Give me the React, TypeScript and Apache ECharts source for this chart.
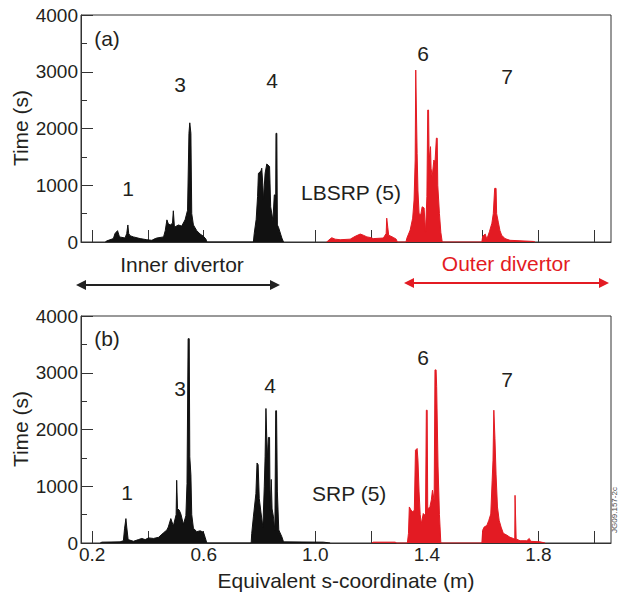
import React, { useEffect, useRef } from "react";
import * as echarts from "echarts";

const FONT = "'Liberation Sans', Arial, Helvetica, sans-serif";
const RED = "#e31b23";
const BLACK = "#111111";
const TEXT = "#231f20";

// x axis ticks / labels (m)
const xTickValues = [0.2, 0.4, 0.6, 0.8, 1.0, 1.2, 1.4, 1.6, 1.8, 2.0];
const xLabelValues = [0.2, 0.6, 1.0, 1.4, 1.8];

// Panel (a): inner divertor (black), [s (m), time (s)]
const innerA: [number, number][] = [
  [0.247, 0], [0.253, 20], [0.276, 60], [0.282, 150], [0.291, 200], [0.298, 90],
  [0.318, 70], [0.324, 150], [0.328, 300], [0.331, 150], [0.336, 110], [0.348, 90],
  [0.372, 60], [0.396, 40], [0.414, 30], [0.426, 60], [0.432, 70], [0.456, 90],
  [0.462, 200], [0.468, 390], [0.473, 320], [0.48, 300], [0.488, 330], [0.491, 550],
  [0.495, 260], [0.509, 300], [0.521, 280], [0.533, 390], [0.542, 560], [0.547, 1915],
  [0.55, 2100], [0.554, 1915], [0.557, 500], [0.563, 300], [0.575, 200], [0.587, 140],
  [0.599, 100], [0.608, 50], [0.611, 0],
  [0.778, 0], [0.781, 150], [0.788, 400], [0.793, 800], [0.796, 1210], [0.805, 1250],
  [0.808, 1300], [0.812, 1000], [0.814, 740], [0.82, 1210], [0.826, 1375], [0.836, 1330],
  [0.84, 620], [0.848, 380], [0.853, 830], [0.858, 830], [0.859, 1915], [0.862, 1915],
  [0.864, 300], [0.868, 260], [0.88, 70], [0.886, 0],
];

// Panel (a): outer divertor (red)
const outerA: [number, number][] = [
  [1.041, 0], [1.047, 30], [1.059, 75], [1.071, 50], [1.089, 40], [1.125, 50],
  [1.143, 100], [1.161, 140], [1.172, 120], [1.185, 90], [1.196, 80], [1.208, 60],
  [1.244, 70], [1.254, 150], [1.256, 420], [1.26, 250], [1.263, 120], [1.28, 80],
  [1.29, 50], [1.294, 0],
  [1.325, 0], [1.328, 65], [1.34, 210], [1.349, 420], [1.354, 740], [1.358, 1445],
  [1.36, 3030], [1.362, 3030], [1.365, 1560], [1.368, 900], [1.372, 500], [1.378, 480],
  [1.383, 620], [1.39, 600], [1.395, 170], [1.4, 800], [1.403, 2325], [1.406, 2325],
  [1.408, 1445], [1.413, 1680], [1.415, 1300], [1.419, 1150], [1.425, 1445], [1.429, 1400],
  [1.434, 1830], [1.437, 1830], [1.439, 1000], [1.445, 500], [1.45, 170], [1.455, 0],
  [1.597, 0], [1.6, 100], [1.609, 140], [1.615, 50], [1.624, 180], [1.633, 330],
  [1.638, 500], [1.643, 945], [1.648, 945], [1.65, 500], [1.656, 350], [1.662, 200],
  [1.668, 120], [1.68, 60], [1.698, 30], [1.782, 10], [1.788, 0],
];

// Panel (b): inner divertor (black)
const innerB: [number, number][] = [
  [0.229, 0], [0.235, 15], [0.3, 20], [0.312, 40], [0.316, 250], [0.321, 430],
  [0.324, 280], [0.329, 60], [0.348, 30], [0.366, 60], [0.378, 80], [0.39, 60],
  [0.402, 90], [0.42, 80], [0.438, 100], [0.456, 180], [0.468, 230], [0.473, 282],
  [0.482, 430], [0.491, 300], [0.501, 500], [0.503, 1105], [0.506, 605], [0.512, 580],
  [0.518, 510], [0.527, 330], [0.536, 480], [0.54, 1050], [0.544, 3600], [0.548, 3600],
  [0.55, 1520], [0.554, 1200], [0.557, 500], [0.563, 260], [0.575, 200], [0.587, 215],
  [0.599, 190], [0.605, 100], [0.611, 0],
  [0.77, 0], [0.772, 165], [0.778, 460], [0.787, 870], [0.791, 1410], [0.795, 1380],
  [0.799, 785], [0.805, 545], [0.812, 280], [0.817, 990], [0.82, 1520], [0.823, 2370],
  [0.825, 2370], [0.828, 1500], [0.832, 1860], [0.836, 1860], [0.838, 575], [0.842, 1120],
  [0.845, 600], [0.85, 460], [0.855, 225], [0.858, 2330], [0.861, 2330], [0.864, 900],
  [0.869, 230], [0.88, 110], [0.886, 20], [1.029, 15], [1.053, 0],
];

// Panel (b): outer divertor (red)
const outerB: [number, number][] = [
  [1.202, 0], [1.208, 15], [1.286, 15], [1.292, 0],
  [1.33, 0], [1.334, 170], [1.337, 635], [1.343, 580], [1.349, 550], [1.355, 580],
  [1.359, 1635], [1.365, 1665], [1.368, 1460], [1.372, 900], [1.376, 500], [1.38, 340],
  [1.387, 520], [1.395, 480], [1.398, 2340], [1.401, 2340], [1.403, 600], [1.411, 640],
  [1.416, 760], [1.42, 930], [1.426, 750], [1.429, 3050], [1.433, 3050], [1.435, 2755],
  [1.437, 2755], [1.44, 1340], [1.445, 500], [1.45, 0],
  [1.597, 0], [1.6, 225], [1.605, 280], [1.615, 310], [1.622, 400], [1.629, 510],
  [1.634, 1105], [1.637, 1460], [1.64, 2340], [1.642, 2340], [1.644, 1840], [1.648, 1200],
  [1.653, 635], [1.659, 400], [1.666, 280], [1.674, 170], [1.686, 140], [1.698, 100],
  [1.71, 80], [1.715, 70], [1.716, 840], [1.718, 840], [1.72, 70], [1.734, 40],
  [1.758, 40], [1.767, 80], [1.772, 30], [1.806, 20], [1.824, 0],
];

const GRID_LEFT = 81;
const GRID_W = 530;
const GRID_H = 227;
const GRID_TOPS = [15, 316];

function txt(text: string, x: number, y: number, opts: any = {}) {
  return {
    type: "text",
    x,
    y,
    rotation: opts.rotation || 0,
    z: 10,
    style: {
      text,
      fontSize: opts.fontSize || 21,
      fontFamily: FONT,
      fill: opts.fill || TEXT,
      align: opts.align || "center",
      verticalAlign: "middle",
    },
  };
}

function arrow(x1: number, x2: number, y: number, color: string) {
  const h = 10;
  const w = 5;
  return [
    { type: "line", z: 10, shape: { x1: x1 + 4, y1: y, x2: x2 - 4, y2: y }, style: { stroke: color, lineWidth: 2 } },
    { type: "polygon", z: 10, shape: { points: [[x1, y], [x1 + h, y - w], [x1 + h, y + w]] }, style: { fill: color } },
    { type: "polygon", z: 10, shape: { points: [[x2, y], [x2 - h, y - w], [x2 - h, y + w]] }, style: { fill: color } },
  ];
}

export default function App() {
  const ref = useRef<HTMLDivElement>(null);
  useEffect(() => {
    if (!ref.current) return;
    const chart = echarts.init(ref.current, null, { renderer: "svg" });
    const axisColor = "#333";
    const grids = GRID_TOPS.map((top) => ({
      left: GRID_LEFT,
      top,
      width: GRID_W,
      height: GRID_H,
      show: true,
      borderColor: axisColor,
      borderWidth: 1,
      backgroundColor: "transparent",
    }));
    const xAxes = [0, 1].map((i) => ({
      gridIndex: i,
      type: "value",
      min: 0.16,
      max: 2.06,
      axisLine: { show: true, lineStyle: { color: axisColor, width: 1 } },
      axisTick: {
        show: true,
        inside: true,
        length: 12,
        customValues: xTickValues,
        lineStyle: { color: axisColor, width: 1 },
      },
      axisLabel: {
        show: i === 1,
        customValues: xLabelValues,
        formatter: (v: number) => v.toFixed(1),
        fontSize: 19,
        fontFamily: FONT,
        color: TEXT,
        margin: 2,
      },
      splitLine: { show: false },
    }));
    const yAxes = [0, 1].map((i) => ({
      gridIndex: i,
      type: "value",
      min: 0,
      max: 4000,
      interval: 1000,
      axisLine: { show: true, lineStyle: { color: axisColor, width: 1 } },
      axisTick: { show: true, inside: true, length: 12, lineStyle: { color: axisColor, width: 1 } },
      minorTick: { show: true, splitNumber: 2, length: 6, lineStyle: { color: axisColor, width: 1 } },
      axisLabel: {
        fontSize: 19,
        fontFamily: FONT,
        color: TEXT,
        margin: 3,
        formatter: (v: number) => String(v),
      },
      splitLine: { show: false },
    }));
    const mk = (data: [number, number][], color: string, idx: number) => ({
      type: "line",
      xAxisIndex: idx,
      yAxisIndex: idx,
      data,
      showSymbol: false,
      symbol: "none",
      lineStyle: { color, width: 1 },
      areaStyle: { color, opacity: 1 },
      z: 3,
    });
    chart.setOption({
      animation: false,
      grid: grids,
      xAxis: xAxes,
      yAxis: yAxes,
      series: [
        mk(innerA, BLACK, 0),
        mk(outerA, RED, 0),
        mk(innerB, BLACK, 1),
        mk(outerB, RED, 1),
      ],
      graphic: [
        txt("(a)", 107, 38),
        txt("1", 128, 188),
        txt("3", 180, 84),
        txt("4", 272, 80),
        txt("LBSRP (5)", 301, 192, { align: "left" }),
        txt("6", 423, 53),
        txt("7", 507, 76),
        txt("(b)", 107, 338),
        txt("1", 127, 492),
        txt("3", 180, 388),
        txt("4", 270, 385),
        txt("SRP (5)", 312, 493, { align: "left" }),
        txt("6", 423, 357),
        txt("7", 507, 379),
        txt("Time (s)", 20, 128, { rotation: Math.PI / 2 }),
        txt("Time (s)", 20, 429, { rotation: Math.PI / 2 }),
        txt("Equivalent s-coordinate (m)", 346, 580),
        txt("Inner divertor", 182, 264),
        txt("Outer divertor", 506, 263, { fill: RED }),
        ...arrow(76, 280, 285, "#222"),
        ...arrow(404, 609, 283, RED),
        txt("JG09.157-2c", 614, 510, { rotation: Math.PI / 2, fontSize: 8, fill: "#444" }),
      ],
    });
    return () => chart.dispose();
  }, []);
  return (
    <div
      ref={ref}
      style={{ position: "fixed", left: 0, top: 0, width: 618, height: 599, background: "#fff" }}
    />
  );
}
